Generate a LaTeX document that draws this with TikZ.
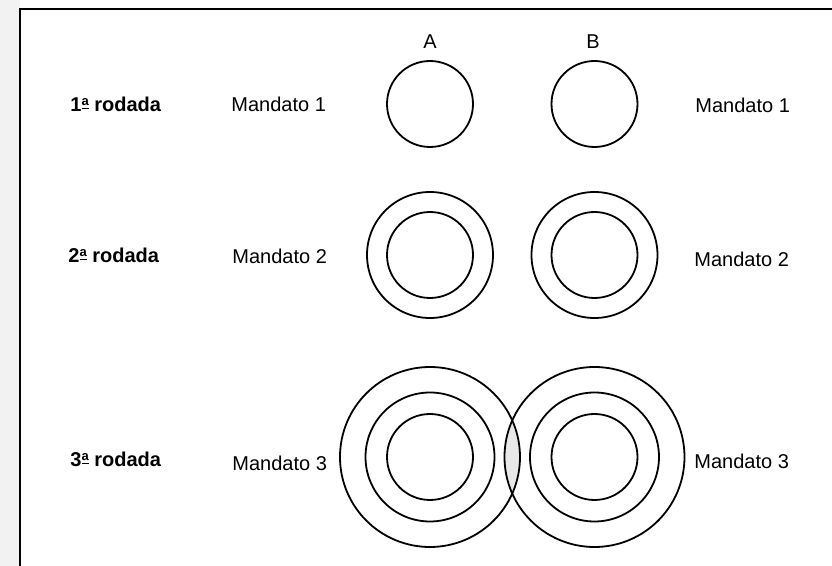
\documentclass[tikz,border=0pt]{standalone}
\usepackage{fontspec}
\setmainfont{Liberation Sans}
\usepackage{tikz}
\newcommand{\ordinala}{\raisebox{0.5ex}{\underline{\fontsize{6.5}{7}\selectfont a}}}
\tikzset{
rodada/.style={
 anchor=west, 
 inner sep=0pt, 
 font=\fontsize{10}{12}\selectfont\bfseries
 },
mandato/.style={
 anchor=west, 
 inner sep=0pt, 
 font=\fontsize{10}{12}\selectfont
 },
anel/.style={
 draw=black, 
 line width=0.9pt
 }
}

\begin{document}
\begin{tikzpicture}[x=0.5pt,y=-0.5pt]
\useasboundingbox (0,0) rectangle (832,566);
\fill[gray!10] (0,0) rectangle (19.5,566);
\draw[line width=1pt] (20,567) -- (20,9) -- (833,9);
% centros
\node[font=\fontsize{10}{12}\selectfont] (tA) at (430,42) {A};
\node[font=\fontsize{10}{12}\selectfont] (tB) at (593,42) {B};
% 1a rodada
\node[rodada] (r1) at (70,104) {1\ordinala{} rodada};
\node[mandato] (mA1) at (231,104) {Mandato 1};
\node[mandato] (mB1) at (695,105) {Mandato 1};
\draw[anel] (430,104) circle (21.5pt);
\draw[anel] (594.5,104) circle (21.5pt);
% 2a rodada
\node[rodada] (r2) at (68,255) {2\ordinala{} rodada};
\node[mandato] (mA2) at (232,256) {Mandato 2};
\node[mandato] (mB2) at (694,259) {Mandato 2};
\foreach \r in {21.5pt,31.5pt}{
 \draw[anel] (430,255) circle (\r);
 \draw[anel] (594.5,255) circle (\r);
}
% 3a rodada
\node[rodada] (r3) at (70,459) {3\ordinala{} rodada};
\node[mandato] (mA3) at (232,463) {Mandato 3};
\node[mandato] (mB3) at (694,461) {Mandato 3};
\begin{scope}
\clip (430,457) circle (45pt);
\fill[gray!18] (594.5,457) circle (45pt);
\end{scope}
\foreach \r in {21.5pt,32.25pt,45pt}{
 \draw[anel] (430,457) circle (\r);
 \draw[anel] (594.5,457) circle (\r);
}
\end{tikzpicture}
\end{document}
